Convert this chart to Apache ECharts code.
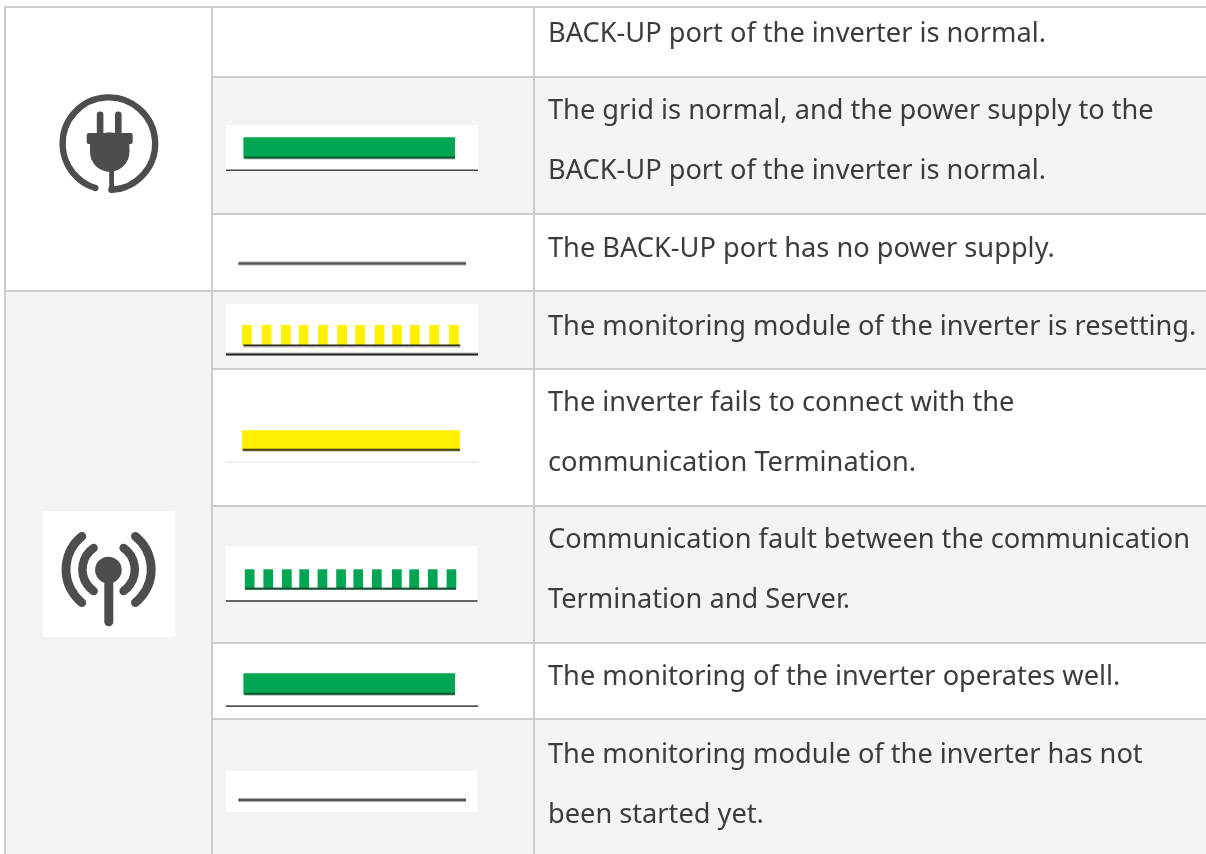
<!DOCTYPE html>
<html><head><meta charset="utf-8">
<style>html,body{margin:0;padding:0;background:#fff}#c{width:1206px;height:854px}</style>
<script src="https://cdn.jsdelivr.net/npm/echarts@6/dist/echarts.min.js"></script>
</head><body><div id="c"></div>
<script>
// table content
const descriptionLines = [
  "BACK-UP port of the inverter is normal.",
  "The grid is normal, and the power supply to the",
  "BACK-UP port of the inverter is normal.",
  "The BACK-UP port has no power supply.",
  "The monitoring module of the inverter is resetting.",
  "The inverter fails to connect with the",
  "communication Termination.",
  "Communication fault between the communication",
  "Termination and Server.",
  "The monitoring of the inverter operates well.",
  "The monitoring module of the inverter has not",
  "been started yet."
];
const descriptionLineY = [34,111,171,249,327,403,463,540,600,677,755,815];
const rowEdges = [7,77,214,291,369,506,643,719,854];
const columnEdges = [5,212,534,1206];
const rowShaded = [false,true,false,true,false,true,false,true];
const yellowStripeStarts = [242,261.7,281,298.7,318,337.3,355.3,374.7,392.3,410,429.3,449];
const greenStripeStarts = [244.8,263.4,282,299.3,317.6,336.2,353.4,372,392,409.3,427.9,446.6];

const SHADE = '#f3f4f6', RULE = '#cbccd0', ICON = '#4d4d4f';
const GREEN = '#00a651', YELLOW = '#fff100', INK = '#3e3b3b';

// [x0,y0,x1,y1,colour]
const rects = [];
const R = (x0,y0,x1,y1,c) => rects.push([x0,y0,x1,y1,c]);
// first column fills
R(columnEdges[0],rowEdges[3],columnEdges[1],rowEdges[8],SHADE);
rowShaded.forEach((s,i)=>{ if(s) R(columnEdges[1],rowEdges[i],columnEdges[3],rowEdges[i+1],SHADE); });
// white pads behind the indicator pictures
R(226,125,478,171,'#fff'); R(226,304,478,355,'#fff'); R(226,546,477.5,602,'#fff');
R(226,771,477.5,812,'#fff'); R(43,511,175,637,'#fff');
// rules
rowEdges.slice(0,8).forEach((y,i)=>{
  const x0 = (i===0||i===3) ? columnEdges[0]-1 : columnEdges[1]-1;
  R(x0,y-1,columnEdges[3],y+1,RULE);
});
columnEdges.slice(0,3).forEach(x=>R(x-1,rowEdges[0]-1,x+1,rowEdges[8],RULE));
// underlines of the pictures
R(226,169.5,478,171,'#444');
R(226,352.6,478,353.6,'#b0b0b0'); R(226,353.6,478,355.4,'#1c1c1c');
R(226,461.4,478,462.6,'#e4e4e4');
R(226,600.2,477.5,601.7,'#333');
R(226,705.3,478,707,'#555');
// solid bars
const bar=(x0,y0,x1,y1,c,d)=>{R(x0,y0,x1,y1,c);R(x0+.8,y1-2,x1,y1,d);R(x0+.8,y1,x1,y1+1,'rgba(90,90,90,.4)');};
bar(243.4,137.3,455,158.6,GREEN,'#0b5a33');
bar(242,430.3,460,450.8,YELLOW,'#3d3a18');
bar(243.4,673.3,455,694.8,GREEN,'#0b5a33');
yellowStripeStarts.forEach(x=>R(x,325,x+9.7,345,YELLOW));
R(243.3,344.5,460.3,346.2,'#2b2b22'); R(243.3,346.2,460.3,347.4,'rgba(90,90,90,.45)');
greenStripeStarts.forEach(x=>R(x,569.3,x+9.7,589,GREEN));
R(245,587.8,456,589.8,'#0b4f2d'); R(245,586.8,456,587.8,'rgba(90,90,90,.25)');
// off lines
R(238.4,261.6,466,265.4,'#a9a9ab'); R(238.4,262.6,466,264.6,'#565557');
R(238.4,798.1,466,801.9,'#a9a9ab'); R(238.4,799,466,801,'#565557');

const ax = {type:'value',show:false,min:0};
const toRad = d => d*Math.PI/180;
const arcs = [
  // cx,cy,r,start,end,width
  [108.9,143.7,46.3,87,107,6.3],
  [108.6,569.5,42.6,180+51,180-51,8.8],
  [108.6,569.5,42.6,-51,51,8.8],
  [108.6,569.5,26.2,180+55,180-55,8.5],
  [108.6,569.5,26.2,-55,55,8.5]
];
const iconRects = [
  [96.8,111.5,103.4,136,3.3],[115,111.5,121.6,136,3.3],
  [86.7,133,132.7,144,2],[90,143,129.4,152,0],
  [109.2,165,114,191.5,2],
  [104.3,575,113.3,626.3,4.5]
];
const iconCircles = [[109.7,152,19.7],[108.4,570,13.3]];

const fills = rects.map((r,i)=>i);
const opt = {
  animation:false,
  grid:{left:0,right:0,top:0,bottom:0},
  xAxis:{...ax,max:1206},
  yAxis:{...ax,max:854,inverse:true},
  series:[
    {type:'custom',silent:true,coordinateSystem:'cartesian2d',clip:false,
     data:fills,
     renderItem:(p,api)=>{const r=rects[api.value(0)];const a=api.coord([r[0],r[1]]),b=api.coord([r[2],r[3]]);
       return {type:'rect',shape:{x:a[0],y:a[1],width:b[0]-a[0],height:b[1]-a[1]},style:{fill:r[4]}};}},
    {type:'custom',silent:true,data:arcs.map((r,i)=>i),
     renderItem:(p,api)=>{const r=arcs[api.value(0)];const c=api.coord([r[0],r[1]]);
       return {type:'arc',shape:{cx:c[0],cy:c[1],r:r[2],startAngle:toRad(r[3]),endAngle:toRad(r[4]),clockwise:api.value(0)===2||api.value(0)===4},
         style:{fill:'none',stroke:ICON,lineWidth:r[5],lineCap:'round'}};}},
    {type:'custom',silent:true,data:iconCircles.map((r,i)=>i),
     renderItem:(p,api)=>{const r=iconCircles[api.value(0)];const c=api.coord([r[0],r[1]]);
       return {type:'circle',shape:{cx:c[0],cy:c[1],r:r[2]},style:{fill:ICON}};}},
    {type:'custom',silent:true,data:iconRects.map((r,i)=>i),
     renderItem:(p,api)=>{const r=iconRects[api.value(0)];const a=api.coord([r[0],r[1]]),b=api.coord([r[2],r[3]]);
       return {type:'rect',shape:{x:a[0],y:a[1],width:b[0]-a[0],height:b[1]-a[1],r:r[4]},style:{fill:ICON}};}},
    {type:'custom',silent:true,data:descriptionLines.map((t,i)=>[548,descriptionLineY[i],i]),
     renderItem:(p,api)=>{const c=api.coord([api.value(0),api.value(1)]);
       return {type:'text',x:c[0],y:c[1],style:{text:descriptionLines[api.value(2)],fill:INK,
         font:'27.2px "Noto Sans"',textAlign:'left',verticalAlign:'middle'}};}}
  ]
};
const chart = echarts.init(document.getElementById('c'),null,{renderer:'canvas',width:1206,height:854});
chart.setOption(opt);
</script></body></html>
